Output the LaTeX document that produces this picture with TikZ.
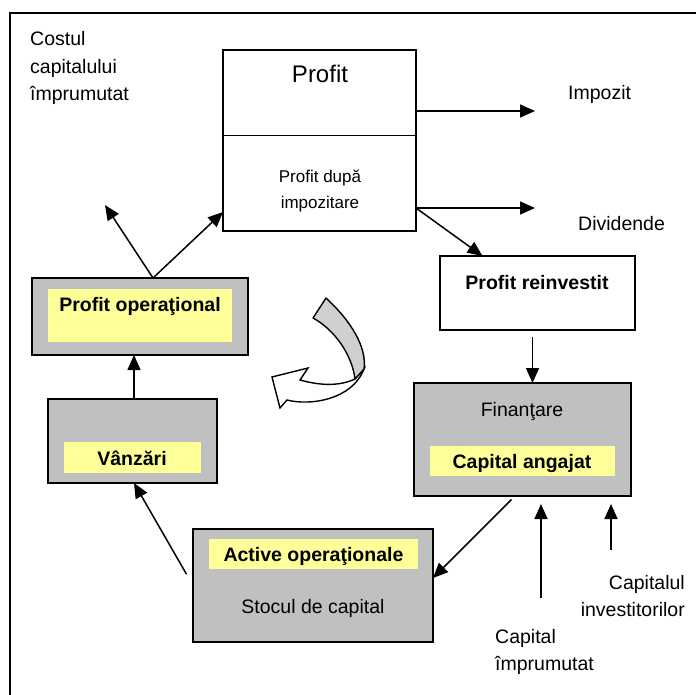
\documentclass[tikz,border=0pt]{standalone}
\usepackage{fontspec}
\setmainfont{Liberation Sans}
\usetikzlibrary{arrows.meta}
\definecolor{boxgrey}{HTML}{C0C0C0}
\definecolor{ribbongrey}{HTML}{D0D0D0}
\definecolor{hlyellow}{HTML}{FFFF99}
\begin{document}
\begin{tikzpicture}[x=1pt,y=-1pt,
  box/.style={draw, line width=1.8pt, inner sep=0pt, outer sep=0pt},
  greybox/.style={box, fill=boxgrey},
  hilite/.style={fill=hlyellow, inner sep=0pt, outer sep=0pt},
  lbl/.style={font=\fontsize{19.5}{24}\selectfont, inner sep=0pt, anchor=base},
  blbl/.style={lbl, font=\bfseries\fontsize{19.5}{24}\selectfont},
  small/.style={lbl, font=\fontsize{17}{22}\selectfont},
  big/.style={lbl, font=\fontsize{24}{28}\selectfont},
  flow/.style={line width=1.5pt, -{Triangle[length=15pt,width=13pt]}}]
\useasboundingbox (0,0) rectangle (696,695);

% outer frame
\draw[line width=1.7pt] (10,695) -- (10,13) -- (696,13);

% profit box split in two parts
\node[box, minimum width=193pt, minimum height=85.5pt] (ptop) at (319.5,92.75) {};
\node[box, minimum width=193pt, minimum height=95.5pt] (pbot) at (319.5,183.25) {};
\node[big] (ptoptxt) at (320,83) {Profit};
\node[small] (pbottxtA) at (320,183) {Profit după};
\node[small] (pbottxtB) at (320,208) {impozitare};

% reinvested profit
\node[box, fill=white, minimum width=195pt, minimum height=74pt] (reinv) at (537.5,293) {};
\node[blbl] (reinvtxt) at (537,289) {Profit reinvestit};

% employed capital
\node[greybox, minimum width=217pt, minimum height=113pt] (capital) at (522.5,439.5) {};
\node[hilite, minimum width=185pt, minimum height=30pt] (capitalhl) at (522.5,461) {};
\node[lbl] (fintxt) at (522,416.5) {Finanţare};
\node[blbl] (capitaltxt) at (522,468) {Capital angajat};

% operating assets
\node[greybox, minimum width=240pt, minimum height=113pt] (active) at (313,585.5) {};
\node[hilite, minimum width=209pt, minimum height=30pt] (activehl) at (313.5,554) {};
\node[blbl] (activetxt) at (313.5,561.5) {Active operaţionale};
\node[lbl] (stocktxt) at (313,613) {Stocul de capital};

% sales
\node[greybox, minimum width=169pt, minimum height=84pt] (vanz) at (132.5,441) {};
\node[hilite, minimum width=137pt, minimum height=31pt] (vanzhl) at (132.5,457.5) {};
\node[blbl] (vanztxt) at (132,465) {Vânzări};

% operating profit
\node[greybox, minimum width=216pt, minimum height=77pt] (profop) at (140,316.5) {};
\node[hilite, minimum width=184pt, minimum height=53pt] (profophl) at (140,315.5) {};
\node[blbl] (profoptxt) at (140,311.5) {Profit operaţional};

% free labels
\node[lbl, anchor=base west] (costA) at (30,46) {Costul};
\node[lbl, anchor=base west] (costB) at (30,73.5) {capitalului};
\node[lbl, anchor=base west] (costC) at (30,101) {împrumutat};
\node[lbl, anchor=base west] (taxtxt) at (568,100) {Impozit};
\node[lbl, anchor=base west] (divtxt) at (578,231) {Dividende};
\node[lbl, anchor=base east] (invA) at (685,589) {Capitalul};
\node[lbl, anchor=base east] (invB) at (685,616.5) {investitorilor};
\node[lbl, anchor=base west] (loanA) at (495,643) {Capital};
\node[lbl, anchor=base west] (loanB) at (495,670) {împrumutat};

% free arrow ends
\coordinate (costEnd) at (105,205);
\coordinate (taxEnd) at (535,111);
\coordinate (divEnd) at (535,208);
\coordinate (loanStart) at (541,598);
\coordinate (invStart) at (611,550);

% flows
\draw[flow] ([xshift=13pt]profop.north) -- (costEnd);
\draw[flow] ([xshift=13pt]profop.north) -- ([yshift=19pt]pbot.south west);
\draw[flow] ([yshift=-18.25pt]ptop.east) -- (taxEnd);
\draw[flow] ([yshift=-24.75pt]pbot.east) -- (divEnd);
\draw[flow] ([yshift=-24.75pt]pbot.east) -- ([xshift=-55pt]reinv.north);
\draw[flow, shorten <=7pt] ([xshift=-5pt]reinv.south) -- ([xshift=10pt]capital.north);
\draw[flow, shorten <=5pt] ([xshift=-7.5pt]capital.south) -- ([yshift=7.5pt]active.east);
\draw[flow, shorten >=8pt] (loanStart) -- ([xshift=18.5pt]capital.south);
\draw[flow, shorten >=8pt] (invStart) -- ([xshift=88.5pt]capital.south);
\draw[flow, shorten <=13pt] (active.west) -- ([xshift=1.5pt]vanz.south);
\draw[flow] ([xshift=1.5pt]vanz.north) -- ([xshift=-6pt]profop.south);

% curved ribbon arrow in the middle
\draw[line width=1.4pt, line join=miter, fill=white]
  (355,379) .. controls (338,387) and (318,385) .. (300,380)
  -- (308,368) -- (272,377) -- (280,408) -- (287,400)
  .. controls (310,406) and (352,400) .. (364,369) -- cycle;
\draw[line width=1.4pt, line join=round, fill=ribbongrey]
  (326,298) .. controls (352,322) and (367,348) .. (364,369)
  -- (355,379) .. controls (352,355) and (335,330) .. (313,318) -- cycle;
\end{tikzpicture}
\end{document}
